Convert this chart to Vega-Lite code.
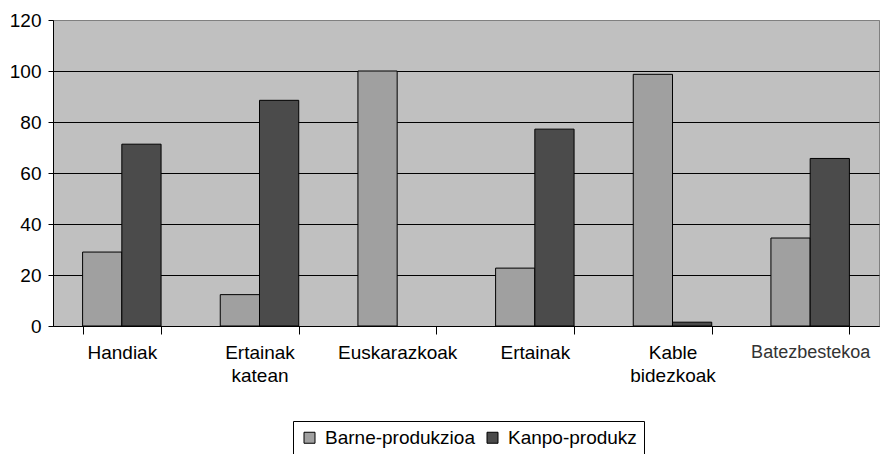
{
  "$schema": "https://vega.github.io/schema/vega-lite/v6.json",
  "width": 826,
  "height": 306,
  "autosize": {"type": "none"},
  "padding": {"left": 53, "top": 20, "right": 3, "bottom": 128},
  "background": "white",
  "data": {
    "values": [
      {"cat": "Handiak", "serie": "Barne-produkzioa", "v": 29},
      {"cat": "Handiak", "serie": "Kanpo-produkz", "v": 71.3},
      {"cat": "Ertainak katean", "serie": "Barne-produkzioa", "v": 12.3},
      {"cat": "Ertainak katean", "serie": "Kanpo-produkz", "v": 88.5},
      {"cat": "Euskarazkoak", "serie": "Barne-produkzioa", "v": 100},
      {"cat": "Euskarazkoak", "serie": "Kanpo-produkz", "v": 0},
      {"cat": "Ertainak", "serie": "Barne-produkzioa", "v": 22.7},
      {"cat": "Ertainak", "serie": "Kanpo-produkz", "v": 77.2},
      {"cat": "Kable bidezkoak", "serie": "Barne-produkzioa", "v": 98.7},
      {"cat": "Kable bidezkoak", "serie": "Kanpo-produkz", "v": 1.5},
      {"cat": "Batezbestekoa", "serie": "Barne-produkzioa", "v": 34.5},
      {"cat": "Batezbestekoa", "serie": "Kanpo-produkz", "v": 65.7}
    ]
  },
  "transform": [{"filter": "datum.v > 0"}],
  "config": {
    "view": {"fill": "#c0c0c0", "stroke": "#808080", "strokeWidth": 1},
    "font": "Liberation Sans"
  },
  "mark": {"type": "bar", "stroke": "black", "strokeWidth": 1},
  "encoding": {
    "x": {
      "field": "cat",
      "type": "nominal",
      "sort": ["Handiak", "Ertainak katean", "Euskarazkoak", "Ertainak", "Kable bidezkoak", "Batezbestekoa"],
      "scale": {"domain": ["Handiak", "Ertainak katean", "Euskarazkoak", "Ertainak", "Kable bidezkoak", "Batezbestekoa"], "paddingInner": 0.43, "paddingOuter": 0.215},
      "axis": {
        "title": null,
        "labelAngle": 0,
        "labelFont": "Liberation Sans",
        "labelFontSize": {"condition": {"test": "datum.value == 'Batezbestekoa'", "value": 18}, "value": 19},
        "labelColor": {"condition": {"test": "datum.value == 'Batezbestekoa'", "value": "#333333"}, "value": "black"},
        "labelPadding": 9,
        "labelLineHeight": 23,
        "labelBaseline": "top",
        "labelExpr": "datum.value == 'Ertainak katean' ? ['Ertainak','katean'] : datum.value == 'Kable bidezkoak' ? ['Kable','bidezkoak'] : datum.value",
        "tickBand": "extent",
        "tickSize": 8,
        "tickColor": "black",
        "domainColor": "black",
        "grid": false
      }
    },
    "xOffset": {
      "field": "serie",
      "type": "nominal",
      "scale": {"domain": ["Barne-produkzioa", "Kanpo-produkz"], "paddingInner": 0, "paddingOuter": 0}
    },
    "y": {
      "field": "v",
      "type": "quantitative",
      "scale": {"domain": [0, 120], "nice": false},
      "axis": {
        "title": null,
        "values": [0, 20, 40, 60, 80, 100, 120],
        "labelFont": "Liberation Sans",
        "labelFontSize": 19,
        "labelColor": "black",
        "labelPadding": 7,
        "tickSize": 5,
        "tickColor": "black",
        "domainColor": "black",
        "grid": true,
        "gridColor": {"condition": {"test": "datum.value == 120", "value": "#808080"}, "value": "black"},
        "gridOpacity": 1
      }
    },
    "color": {
      "field": "serie",
      "type": "nominal",
      "scale": {"domain": ["Barne-produkzioa", "Kanpo-produkz"], "range": ["#a0a0a0", "#4b4b4b"]},
      "legend": {
        "title": null,
        "orient": "none",
        "direction": "horizontal",
        "legendX": 240,
        "legendY": 401,
        "strokeColor": "black",
        "padding": 7,
        "symbolType": "square",
        "symbolSize": 121,
        "symbolStrokeColor": "black",
        "symbolStrokeWidth": 1,
        "symbolOpacity": 1,
        "labelFont": "Liberation Sans",
        "labelFontSize": 19,
        "labelColor": "black",
        "labelOffset": 6,
        "columnPadding": 8
      }
    }
  }
}
